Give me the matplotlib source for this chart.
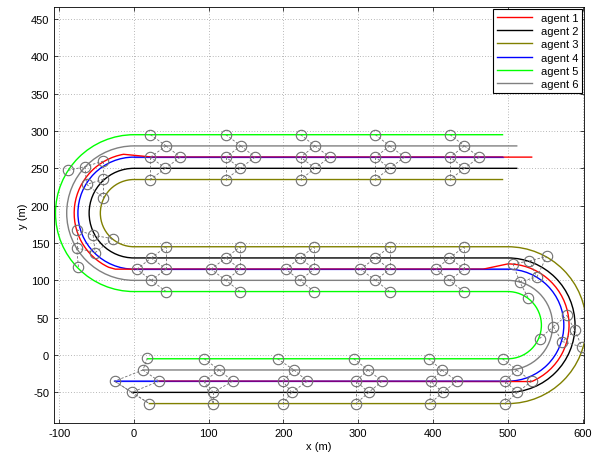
import numpy as np
import matplotlib
matplotlib.use("Agg")
import matplotlib.pyplot as plt
from matplotlib.path import Path
from matplotlib.transforms import Affine2D

plt.rcParams["font.family"] = ["Liberation Sans", "DejaVu Sans"]
plt.rcParams["axes.unicode_minus"] = False

agents = ["agent 1", "agent 2", "agent 3", "agent 4", "agent 5", "agent 6"]
colors = ["#ff0000", "#000000", "#808000", "#0000ff", "#00ff00", "#808080"]

# turn centres (m)
right_centre = (500, 40)
left_centre = (0, 190)

# lanes / turn radii per agent (m)
start_x = [33.5, -3, 20.5, -26, 18, 12]
bottom_y = [-35, -50, -65, -35, -5, -20]
middle_y = [115, 130, 145, 115, 85, 100]
top_y = [265, 250, 235, 265, 295, 280]
right_r = [82, 90, 105, 75, 45, 60]
left_r = [80, 60, 45, 75, 105, 90]
right_arc = [(-67, 90), (-90, 90), (-90, 90), (-90, 90), (-90, 90), (-90, 90)]
left_arc = [(100, 245), (90, 270), (90, 270), (90, 270), (90, 270), (90, 270)]
# extra waypoints (x) on middle / top lane, agent 1 swings wide in the turns
middle_x = [[467, -25], [], [], [], [], []]
top_x = [[25, 532], [512], [493], [493], [493], [512]]

# snapshot positions, every ~100 m of travel
snap_x = [
    [33.5, 132, 232, 332, 432, 532, 579, 507, 404, 303, 203, 103, 4, -76.7, -41, 62, 162, 262, 362, 462],
    [-3, 106, 211, 314, 413, 513, 590, 529, 422, 323, 222, 123, 23, -54.5, -41, 42, 142, 242, 342, 442],
    [20.5, 106, 199, 297, 396, 496, 599, 552, 442, 342, 241, 142, 43, -28.5, -41, 22, 123, 223, 323, 423],
    [-26, 94, 199, 297, 397, 496, 573, 539, 442, 342, 241, 142, 43, -52, -63.3, 22, 123, 223, 323, 423],
    [18, 94, 192, 294, 394, 493, 542.5, 527, 441, 342, 241, 142, 43, -74.3, -88, 22, 123, 223, 323, 423],
    [12, 114, 214, 313, 412, 512, 561, 516, 422, 323, 222, 123, 23, -76.7, -65.6, 43, 143, 242, 342, 442],
]
snap_y = [
    [-35, -35, -35, -35, -35, -35, 53, 122, 115, 115, 115, 115, 115, 167.7, 259.7, 265, 265, 265, 265, 265],
    [-50, -50, -50, -50, -50, -50, 33, 126, 130, 130, 130, 130, 130, 160.3, 235.2, 250, 250, 250, 250, 250],
    [-65, -65, -65, -65, -65, -65, 11, 132, 145, 145, 145, 145, 145, 155.8, 210.7, 235, 235, 235, 235, 235],
    [-35, -35, -35, -35, -35, -35, 18, 104.5, 115, 115, 115, 115, 115, 137, 228.5, 265, 265, 265, 265, 265],
    [-4, -5, -5, -5, -5, -5, 22, 77, 85, 85, 85, 85, 85, 118, 247.3, 295, 295, 295, 295, 295],
    [-20, -20, -20, -20, -20, -20, 38, 98, 100, 100, 100, 100, 100, 143.5, 252.2, 280, 280, 280, 280, 280],
]
# communication links (agent indices)
links = [(4, 5), (5, 3), (5, 0), (0, 1), (1, 3), (1, 2), (3, 2)]


def arc_pts(centre, r, t1, t2):
    p = Path.arc(t1, t2).transformed(Affine2D().scale(r).translate(*centre))
    return p.to_polygons(closed_only=False)[0]


fig = plt.figure(figsize=(6.02, 4.56), dpi=100)
ax = fig.add_axes([54 / 602, 32 / 456, 530 / 602, 416 / 456])

for i in range(6):
    pts = [np.array([[start_x[i], bottom_y[i]]])]
    pts.append(arc_pts(right_centre, right_r[i], *right_arc[i]))
    if middle_x[i]:
        pts.append(np.array([[x, middle_y[i]] for x in middle_x[i]]))
    pts.append(arc_pts(left_centre, left_r[i], *left_arc[i])[::-1])
    pts.append(np.array([[x, top_y[i]] for x in top_x[i]]))
    pts = np.vstack(pts)
    ax.plot(pts[:, 0], pts[:, 1], color=colors[i], lw=1.0, zorder=3 if i == 0 else 2, label=agents[i])

# agent 4 straights drawn again half-transparent where they share agent 1's lane
b = 3
for xs, y in [([start_x[b], 500], bottom_y[b]), ([500, 0], middle_y[b]), ([0, top_x[b][0]], top_y[b])]:
    ax.plot(xs, [y, y], color=colors[b], lw=1.0, alpha=0.5, zorder=3.5)

# links between agents at each snapshot
for k in range(len(snap_x[0])):
    for a, c in links:
        ax.plot([snap_x[a][k], snap_x[c][k]], [snap_y[a][k], snap_y[c][k]],
                color="#707070", lw=0.6, dashes=(3, 2), zorder=4)

for i in range(6):
    ax.plot(snap_x[i], snap_y[i], "o", mfc="none", mec="#707070", mew=0.8, ms=7.5, zorder=5)

ax.set_xlim(-107, 602)
ax.set_ylim(-91, 466)
ax.set_xticks(np.arange(-100, 601, 100))
ax.set_yticks(np.arange(-50, 451, 50))
ax.tick_params(direction="in", top=True, right=True, length=3, width=0.5, labelsize=8)
ax.grid(True, color="#777777", linestyle=(0, (1, 3)), linewidth=0.5)
for s in ax.spines.values():
    s.set_linewidth(0.6)
ax.set_xlabel("x (m)", fontsize=8, labelpad=2)
ax.set_ylabel("y (m)", fontsize=8, labelpad=2)

leg = ax.legend(loc="upper right", fontsize=8, fancybox=False, edgecolor="k", framealpha=1,
                borderaxespad=0.2, handlelength=3.2, labelspacing=0.3, borderpad=0.3)
leg.get_frame().set_linewidth(0.8)

fig.savefig("out.png", dpi=100)
